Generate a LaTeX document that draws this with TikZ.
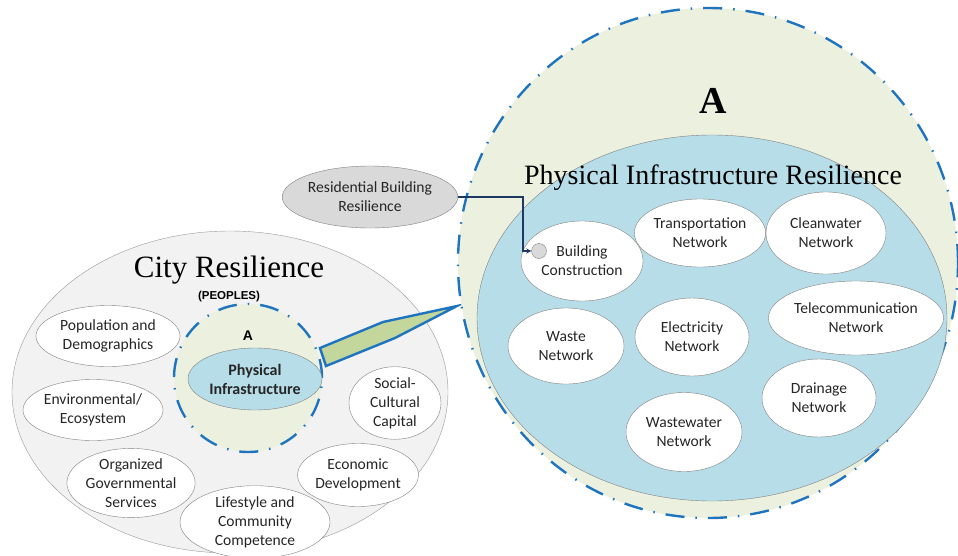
\documentclass[tikz,border=0pt]{standalone}
\usepackage{fontspec}
\setmainfont{Liberation Serif}
\setsansfont{Carlito}
\newfontfamily\headfont{Liberation Sans}
\usepackage{tikz}
\usetikzlibrary{arrows}
\usetikzlibrary{shapes.geometric, positioning}

\definecolor{olivebg}{HTML}{EBF1DE}
\definecolor{aquabg}{HTML}{B7DEE8}
\definecolor{dashblue}{HTML}{1F74C0}
\definecolor{wedgegreen}{HTML}{C3D69B}
\definecolor{citygray}{HTML}{F2F2F2}
\definecolor{linkblue}{HTML}{1F3864}

\tikzset{
	ell/.style 2 args={ellipse, inner sep=0pt, minimum width=#1pt, minimum height=#2pt},
	item/.style={draw=gray, fill=white, align=center, text=black!85,
		font=\sffamily\fontsize{15.6}{19}\selectfont},
	dashring/.style={draw=dashblue, line width=2.4pt, fill=olivebg,
		dash pattern=on 19pt off 11pt on 1.5pt off 11pt},
	link/.style={draw=linkblue, line width=1.2pt, -stealth}
}

\begin{document}
\begin{tikzpicture}[x=1pt, y=-1pt]
	\useasboundingbox (0,0) rectangle (958,555);

	\node[draw=gray!80, fill=citygray, ell={436}{322}] (city) at (230,392) {};
	\node[font=\fontsize{31}{31}\selectfont] (cityt) at (229,270) {City Resilience};
	\node[font=\headfont\bfseries\fontsize{11.5}{12}\selectfont] (people) [below = 0pt of cityt] {(PEOPLES)};

	\node[dashring, circle, inner sep=0pt, minimum size=148pt] (ringa) at (248,378) {};
	\node[font=\headfont\bfseries\fontsize{14}{14}\selectfont] (a) at (248,336) {A};
	\node[draw=gray, fill=aquabg, ell={134}{62}, align=center, text=black!85,
		font=\sffamily\bfseries\fontsize{16}{19}\selectfont] (phys) at (255,379) {Physical\\Infrastructure};

	\node[item, ell={144}{61}] (pop) at (108,336) {Population and\\Demographics};
	\node[item, ell={140}{61}] (env) at (93,410) {Environmental/\\Ecosystem};
	\node[item, ell={122}{62}] (gov) at (131,483) {Organized\\Governmental\\Services};
	\node[item, ell={150}{62}] (life) at (255,522) {Lifestyle and\\Community\\Competence};
	\node[item, ell={116}{63}] (econ) at (358,475) {Economic\\Development};
	\node[item, ell={92}{60}] (social) at (395,403) {Social-\\Cultural\\Capital};

	\filldraw[draw=dashblue, fill=wedgegreen, line width=2.4pt, line join=miter]
		(320,348) -- (383,322) -- (457,306) -- (395,338) -- (326,366) -- cycle;

	\node[dashring, ell={500}{510}] (ringbig) at (708,263) {};
	\node[font=\bfseries\fontsize{38}{38}\selectfont] (bigA) at (713,101) {A};
	\node[draw=gray, fill=aquabg, ell={470}{366}] (pir) at (712,318) {};
	\node[font=\fontsize{28}{28}\selectfont] (pirt) at (713,178) {Physical Infrastructure Resilience};

	\node[item, ell={122}{80}] (bc) at (582,261) {Building\\Construction};
	\node[draw=gray, fill=gray!30, circle, inner sep=0pt, minimum size=15pt] (dot) at (539,251) {};
	\node[item, ell={122}{68}] (trans) at (700,233) {Transportation\\Network};
	\node[item, ell={120}{82}] (clean) at (826,233) {Cleanwater\\Network};
	\node[item, ell={156}{74}] (tele) at (856,318) {Telecommunication\\Network};
	\node[item, ell={116}{76}] (waste) at (566,346) {Waste\\Network};
	\node[item, ell={114}{78}] (elec) at (692,337) {Electricity\\Network};
	\node[item, ell={114}{78}] (drain) at (819,398) {Drainage\\Network};
	\node[item, ell={116}{79}] (wwater) at (684,432) {Wastewater\\Network};

	\node[draw=gray, fill=gray!30, ell={156}{62}, align=center, text=black!85,
		font=\sffamily\fontsize{15.6}{19}\selectfont] (rbr) at (370,197) {Residential Building\\Resilience};
	\coordinate (bend) at (523,197);
	\draw[link] (rbr.east) -- (bend) |- (dot.west);
\end{tikzpicture}
\end{document}
